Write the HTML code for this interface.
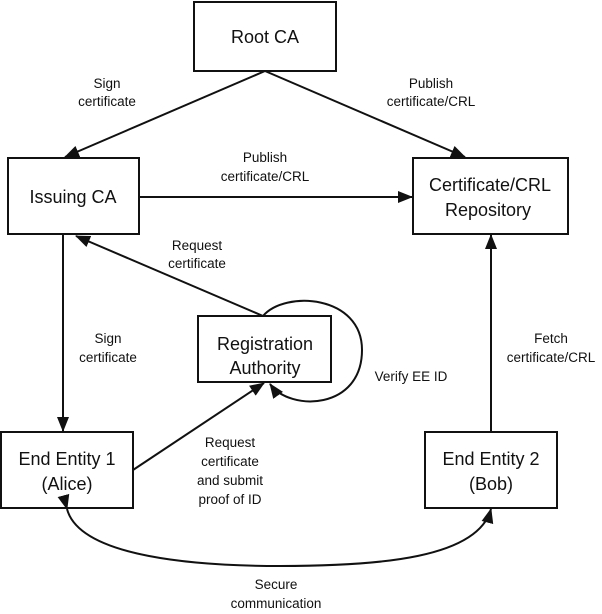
<!DOCTYPE html>
<html><head><style>
body{margin:0;background:#fff;}
svg text{font-family:"Liberation Sans",sans-serif;fill:#111;}
.b{font-size:18px;}
.l{font-size:13.5px;}
</style></head><body>
<svg width="602" height="609" viewBox="0 0 602 609" xmlns="http://www.w3.org/2000/svg">
<defs><marker id="a" markerWidth="15" markerHeight="12" refX="14" refY="6" orient="auto" markerUnits="userSpaceOnUse"><path d="M0,0 L15,6 L0,12 z" fill="#111"/></marker></defs>
<g fill="none" stroke="#111" stroke-width="2">
<rect x="194" y="2" width="142" height="69"/>
<rect x="8" y="158" width="131" height="76"/>
<rect x="413" y="158" width="155" height="76"/>
<rect x="198" y="316" width="133" height="66"/>
<rect x="1" y="432" width="132" height="76"/>
<rect x="425" y="432" width="132" height="76"/>
<line x1="265" y1="71" x2="65" y2="157" marker-end="url(#a)"/>
<line x1="265" y1="71" x2="465" y2="157" marker-end="url(#a)"/>
<line x1="139" y1="197" x2="412" y2="197" marker-end="url(#a)"/>
<line x1="263" y1="316" x2="76" y2="236" marker-end="url(#a)"/>
<line x1="63" y1="234" x2="63" y2="431" marker-end="url(#a)"/>
<line x1="491" y1="432" x2="491" y2="235" marker-end="url(#a)"/>
<line x1="133" y1="470" x2="264" y2="383" marker-end="url(#a)"/>
<path d="M263,316 C285,290 362,295 362,350 C362,410 290,412 270,384" marker-end="url(#a)"/>
<path d="M67,509 C80,558 200,566 280,566 C380,566 478,558 491,509" marker-start="url(#a)" marker-end="url(#a)"/>
</g>
<g text-anchor="middle">
<text class="b" x="265" y="43">Root CA</text>
<text class="b" x="73" y="203">Issuing CA</text>
<text class="b" x="490" y="191">Certificate/CRL</text>
<text class="b" x="488" y="216">Repository</text>
<text class="b" x="265" y="350">Registration</text>
<text class="b" x="265" y="374">Authority</text>
<text class="b" x="67" y="465">End Entity 1</text>
<text class="b" x="67" y="490">(Alice)</text>
<text class="b" x="491" y="465">End Entity 2</text>
<text class="b" x="491" y="490">(Bob)</text>
<text class="l" x="107" y="88">Sign</text>
<text class="l" x="107" y="106">certificate</text>
<text class="l" x="431" y="88">Publish</text>
<text class="l" x="431" y="106">certificate/CRL</text>
<text class="l" x="265" y="162">Publish</text>
<text class="l" x="265" y="181">certificate/CRL</text>
<text class="l" x="197" y="250">Request</text>
<text class="l" x="197" y="268">certificate</text>
<text class="l" x="108" y="343">Sign</text>
<text class="l" x="108" y="362">certificate</text>
<text class="l" x="551" y="343">Fetch</text>
<text class="l" x="551" y="362">certificate/CRL</text>
<text class="l" x="411" y="381">Verify EE ID</text>
<text class="l" x="230" y="447">Request</text>
<text class="l" x="230" y="466">certificate</text>
<text class="l" x="230" y="485">and submit</text>
<text class="l" x="230" y="504">proof of ID</text>
<text class="l" x="276" y="589">Secure</text>
<text class="l" x="276" y="608">communication</text>
</g>
</svg>
</body></html>
